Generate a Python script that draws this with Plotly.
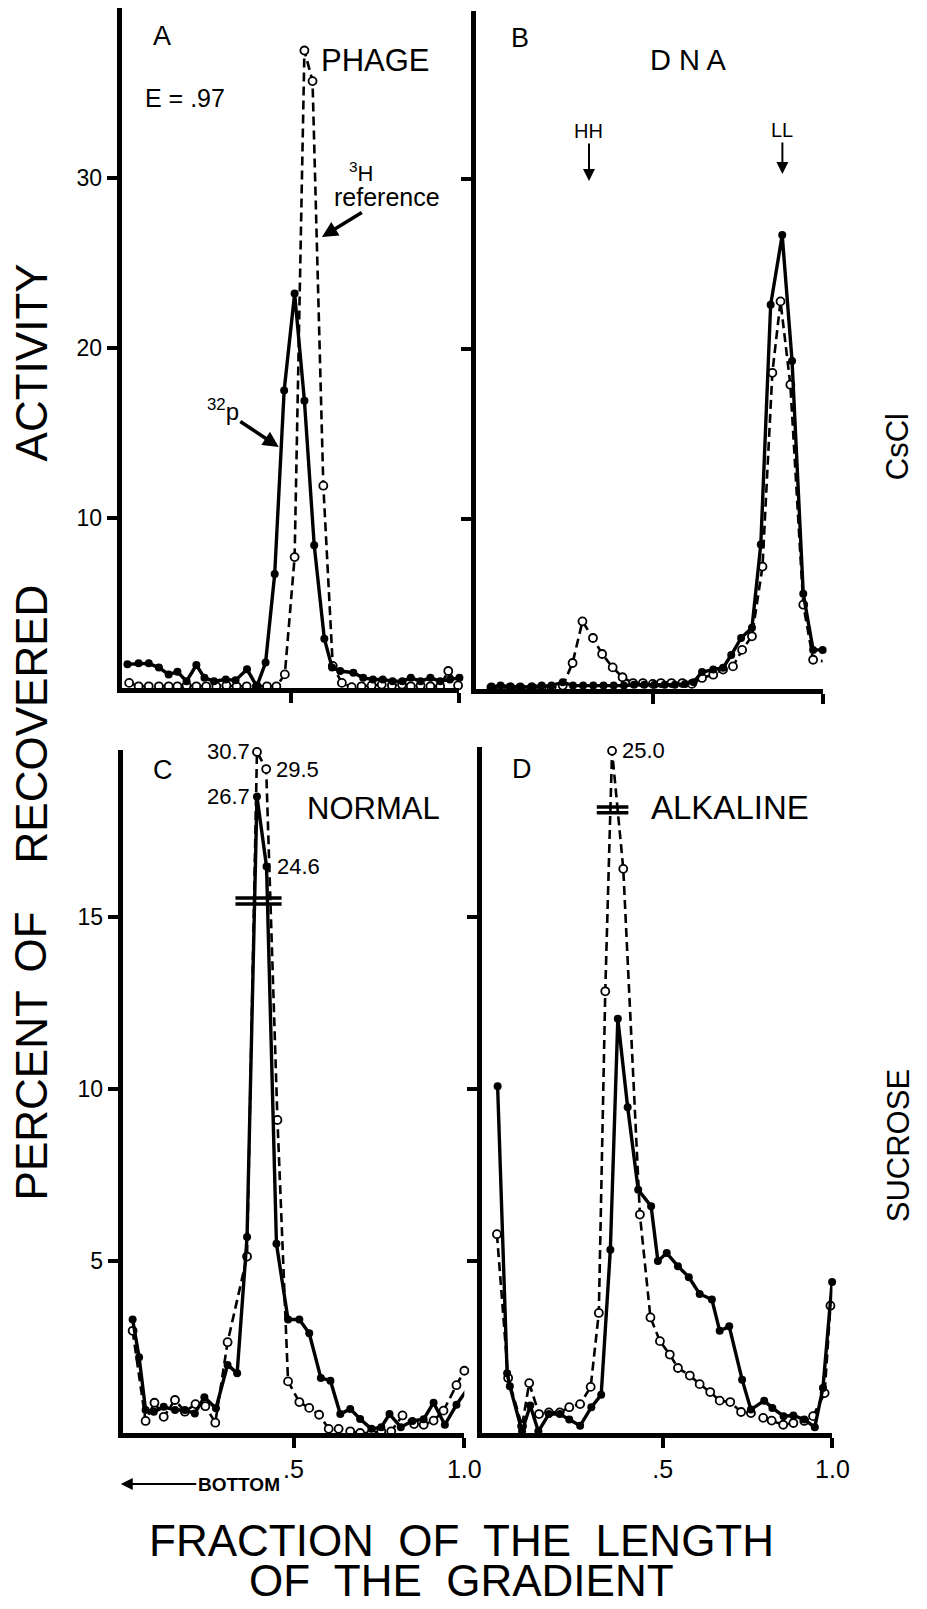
import numpy as np
import plotly.graph_objects as go

W, H = 927, 1609
FONT = "Liberation Sans, Arial, sans-serif"

# ---------------- Panel A : PHAGE (CsCl) ----------------
A_p32_x = [0.017, 0.05, 0.08, 0.11, 0.139, 0.165, 0.192, 0.221, 0.245, 0.273, 0.308, 0.337,
           0.371, 0.40, 0.426, 0.453, 0.481, 0.512, 0.541, 0.57, 0.60, 0.623, 0.647, 0.686,
           0.715, 0.744, 0.773, 0.802, 0.831, 0.856, 0.885, 0.914, 0.943, 0.972, 1.0]
A_p32_y = [1.4, 1.45, 1.45, 1.2, 0.8, 0.95, 0.4, 1.35, 0.6, 0.4, 0.5, 0.45,
           1.1, 0.1, 1.5, 6.7, 17.5, 23.2, 16.9, 8.4, 2.9, 1.2, 1.0, 0.9,
           0.6, 0.5, 0.5, 0.4, 0.4, 0.6, 0.4, 0.6, 0.4, 0.5, 0.6]
A_h3_x = [0.022, 0.05, 0.08, 0.11, 0.139, 0.165, 0.192, 0.221, 0.25, 0.28, 0.31, 0.34,
          0.37, 0.40, 0.43, 0.458, 0.483, 0.512, 0.541, 0.565, 0.597, 0.625, 0.652, 0.681,
          0.71, 0.74, 0.77, 0.80, 0.83, 0.856, 0.885, 0.914, 0.943, 0.967, 0.996]
A_h3_y = [0.3, 0.1, 0.1, 0.1, 0.1, 0.1, 0.15, 0.1, 0.1, 0.1, 0.15, 0.1,
          0.1, 0.1, 0.1, 0.1, 0.8, 7.7, 37.5, 35.7, 11.9, 1.3, 0.3, 0.05,
          0.1, 0.15, 0.2, 0.15, 0.2, 0.1, 0.15, 0.1, 0.1, 1.0, 0.15]

# ---------------- Panel B : DNA (CsCl) ----------------
B_p32_x = [0.025, 0.052, 0.081, 0.11, 0.144, 0.173, 0.202, 0.235, 0.265, 0.295, 0.325, 0.355,
           0.385, 0.415, 0.445, 0.475, 0.505, 0.535, 0.565, 0.595, 0.62, 0.645, 0.678, 0.707,
           0.731, 0.760, 0.792, 0.818, 0.847, 0.881, 0.910, 0.943, 0.972, 1.0]
B_p32_y = [0.1, 0.2, 0.15, 0.1, 0.15, 0.2, 0.2, 0.4, 0.2, 0.2, 0.2, 0.2,
           0.2, 0.2, 0.25, 0.25, 0.25, 0.25, 0.25, 0.3, 0.4, 1.0, 1.15, 1.25,
           2.0, 3.0, 3.6, 8.5, 22.6, 26.7, 19.3, 5.6, 2.3, 2.3]
B_h3_x = [0.025, 0.052, 0.081, 0.11, 0.144, 0.173, 0.202, 0.235, 0.264, 0.293, 0.324, 0.351,
          0.382, 0.411, 0.442, 0.471, 0.50, 0.524, 0.555, 0.587, 0.615, 0.645, 0.678, 0.707,
          0.736, 0.763, 0.792, 0.823, 0.852, 0.876, 0.905, 0.943, 0.972, 1.004]
B_h3_y = [0.1, 0.1, 0.1, 0.1, 0.1, 0.1, 0.1, 0.2, 1.53, 3.98, 3.0, 2.06,
          1.27, 0.69, 0.35, 0.35, 0.3, 0.35, 0.35, 0.35, 0.3, 0.65, 0.84, 1.14,
          1.33, 2.3, 3.1, 7.2, 18.6, 22.8, 17.9, 4.96, 1.72, 1.63]

# ---------------- Panel C : NORMAL (sucrose) ----------------
C_p32_x = [0.029, 0.048, 0.067, 0.091, 0.12, 0.153, 0.182, 0.211, 0.239, 0.273, 0.307, 0.335,
           0.364, 0.393, 0.421, 0.45, 0.484, 0.517, 0.546, 0.58, 0.608, 0.637, 0.666, 0.695,
           0.728, 0.757, 0.781, 0.814, 0.848, 0.881, 0.91, 0.943, 0.977, 1.01]
C_p32_y = [3.3, 2.2, 0.67, 0.62, 0.76, 0.67, 0.67, 0.57, 1.04, 0.72, 1.98, 1.74,
           5.7, 26.7, 24.6, 5.5, 3.3, 3.3, 2.9, 1.6, 1.52, 0.55, 0.70, 0.41,
           0.12, 0.17, 0.55, 0.17, 0.35, 0.40, 0.88, 0.24, 0.82, 1.29]
C_h3_x = [0.029, 0.067, 0.093, 0.12, 0.153, 0.182, 0.213, 0.242, 0.271, 0.307, 0.364, 0.393,
          0.42, 0.453, 0.484, 0.517, 0.546, 0.575, 0.603, 0.632, 0.666, 0.695, 0.728, 0.757,
          0.786, 0.819, 0.853, 0.881, 0.91, 0.939, 0.977, 1.0]
C_h3_y = [2.97, 0.35, 0.88, 0.47, 0.96, 0.62, 0.84, 0.78, 0.3, 2.64, 5.13, 30.7,
          29.5, 9.1, 1.5, 0.90, 0.73, 0.53, 0.12, 0.12, 0.05, 0.0, 0.0, 0.05,
          0.05, 0.51, 0.26, 0.24, 0.36, 0.65, 1.39, 1.81]
# broken-axis scale above the break (true value -> drawn height)
C_break_true = [15.5, 24.6, 26.7, 29.5, 30.7]
C_break_draw = [15.5, 16.47, 18.5, 19.3, 19.8]
C_label_side = {30.7: "left", 29.5: "right", 26.7: "left", 24.6: "right"}

# ---------------- Panel D : ALKALINE (sucrose) ----------------
D_p32_x = [0.014, 0.042, 0.05, 0.086, 0.11, 0.134, 0.165, 0.197, 0.225, 0.257, 0.29, 0.319,
           0.346, 0.368, 0.397, 0.428, 0.466, 0.486, 0.512, 0.545, 0.577, 0.609, 0.645, 0.668,
           0.696, 0.734, 0.76, 0.799, 0.823, 0.856, 0.885, 0.917, 0.948, 0.972, 0.999]
D_p32_y = [10.08, 1.74, 1.36, 0.05, 0.8, 0.05, 0.55, 0.55, 0.39, 0.21, 0.75, 1.11,
           5.33, 12.04, 9.47, 7.07, 6.59, 5.0, 5.23, 4.85, 4.53, 4.04, 3.88, 2.97,
           3.1, 1.55, 0.68, 0.94, 0.73, 0.49, 0.51, 0.39, 0.17, 1.31, 4.39]
D_h3_x = [0.012, 0.045, 0.086, 0.107, 0.136, 0.165, 0.197, 0.225, 0.257, 0.288, 0.312, 0.331,
          0.351, 0.384, 0.433, 0.464, 0.492, 0.521, 0.545, 0.58, 0.609, 0.64, 0.668, 0.699,
          0.731, 0.76, 0.796, 0.821, 0.855, 0.885, 0.917, 0.943, 0.977, 0.994]
D_h3_y = [5.78, 1.6, 0.2, 1.45, 0.55, 0.6, 0.6, 0.75, 0.84, 1.34, 3.49, 12.84,
          25.0, 16.4, 6.35, 3.36, 2.67, 2.28, 1.89, 1.67, 1.42, 1.19, 0.94, 0.9,
          0.61, 0.58, 0.44, 0.36, 0.24, 0.29, 0.35, 0.49, 1.16, 3.7]
D_break_true = [18.2, 25.0]
D_break_draw = [18.2, 19.83]
D_label_side = {25.0: "right"}

# axis title words and their vertical centres
Y_TITLE_WORDS = ["PERCENT", "OF", "RECOVERED", "ACTIVITY"]
Y_TITLE_POS = [1095, 942, 724, 362]


def drawn(vals, kt, kd):
    v = np.asarray(vals, float)
    return np.where(v > kt[0], np.interp(v, kt, kd), v)


def px(p):
    return p / W


def py(p):
    return 1 - p / H


fig = go.Figure()

panels = [
    ("x", "y", A_p32_x, A_p32_y, A_h3_x, A_h3_y),
    ("x2", "y2", B_p32_x, B_p32_y, B_h3_x, B_h3_y),
    ("x3", "y3", C_p32_x, list(drawn(C_p32_y, C_break_true, C_break_draw)),
     C_h3_x, list(drawn(C_h3_y, C_break_true, C_break_draw))),
    ("x4", "y4", D_p32_x, list(drawn(D_p32_y, D_break_true, D_break_draw)),
     D_h3_x, list(drawn(D_h3_y, D_break_true, D_break_draw))),
]

for xa, ya, px32, py32, ph3x, ph3y in panels:
    fig.add_trace(go.Scatter(
        x=ph3x, y=ph3y, xaxis=xa, yaxis=ya, mode="lines+markers", cliponaxis=False,
        line=dict(color="black", width=2.6, dash="9px,5px"),
        marker=dict(symbol="circle", size=8, color="white", line=dict(color="black", width=1.8)),
        showlegend=False, hoverinfo="skip"))
    fig.add_trace(go.Scatter(
        x=px32, y=py32, xaxis=xa, yaxis=ya, mode="lines+markers", cliponaxis=False,
        line=dict(color="black", width=3.4),
        marker=dict(symbol="circle", size=8, color="black"),
        showlegend=False, hoverinfo="skip"))


def xax(l, r, rng, labels, anchor):
    return dict(domain=[px(l), px(r)], range=rng, anchor=anchor, showline=True, linewidth=5,
                linecolor="black", ticks="outside", ticklen=10, tickwidth=3.5, tickcolor="black",
                tickvals=[0.5, 1.0], ticktext=[".5", "1.0"], showticklabels=labels,
                showgrid=False, zeroline=False,
                tickfont=dict(size=25, color="black", family=FONT))


def yax(bot, top, ppu, tv, labels, anchor):
    return dict(domain=[py(bot), py(top)], range=[0, (bot - top) / ppu], anchor=anchor,
                showline=True, linewidth=5,
                linecolor="black", ticks="outside", ticklen=10, tickwidth=3.5, tickcolor="black",
                tickvals=tv, ticktext=[str(t) for t in tv], showticklabels=labels,
                showgrid=False, zeroline=False,
                tickfont=dict(size=23, color="black", family=FONT))


fig.update_layout(
    width=W, height=H, margin=dict(l=0, r=0, t=0, b=0), autosize=False,
    paper_bgcolor="white", plot_bgcolor="white", showlegend=False,
    font=dict(family=FONT, color="black"),
    xaxis=xax(124, 468, [0, 1], False, "y"),
    yaxis=yax(688, 8, 17.0, [10, 20, 30], True, "x"),
    xaxis2=xax(485, 838, [-0.02, 1], False, "y2"),
    yaxis2=yax(689, 11, 17.0, [10, 20, 30], False, "x2"),
    xaxis3=xax(125, 473, [0, 1], True, "y3"),
    yaxis3=yax(1433, 750, 34.4, [5, 10, 15], True, "x3"),
    xaxis4=xax(491, 848, [-0.032, 1], True, "y4"),
    yaxis4=yax(1433, 747, 34.4, [5, 10, 15], False, "x4"),
)

ann = []


def txt(t, x, y, size, angle=0, xanchor="center", yanchor="middle"):
    ann.append(dict(text=t, x=px(x), y=py(y), xref="paper", yref="paper", showarrow=False,
                    font=dict(size=size, color="black", family=FONT), textangle=angle,
                    xanchor=xanchor, yanchor=yanchor))


def label_arrow(t, tx, ty, hx, hy, size, width=3, head=2, asize=1.0):
    # text sits at (tx, ty); the arrow runs from the text to the head (hx, hy)
    ann.append(dict(text=t, x=px(hx), y=py(hy), xref="paper", yref="paper", showarrow=True,
                    ax=tx - hx, ay=ty - hy, arrowhead=head, arrowsize=asize,
                    arrowwidth=width, arrowcolor="black",
                    font=dict(size=size, color="black", family=FONT)))


# panel letters and titles
txt("A", 165, 36, 27)
txt("PHAGE", 383, 61, 31)
txt("E = .97", 188, 98, 25)
txt("<sup>3</sup>H", 368, 172, 22)
label_arrow("reference", 393, 197, 328, 237, 25, width=3.5, asize=0.9)
label_arrow("<sup>32</sup>p", 228, 410, 284, 447, 24, width=3.5, asize=0.9)

txt("B", 530, 38, 27)
txt("D N A", 701, 60, 29)
label_arrow("HH", 600, 131, 600, 181, 20, width=2, asize=1.2)
label_arrow("LL", 797, 130, 797, 174, 20, width=2, asize=1.2)

txt("C", 166, 770, 27)
txt("NORMAL", 380, 808, 31)
txt("D", 532, 769, 27)
txt("ALKALINE", 744, 807, 33)

# value labels of off-scale points
for xs, ys, kt, kd, sides, xa, ya in [
        (C_h3_x, C_h3_y, C_break_true, C_break_draw, C_label_side, "x3", "y3"),
        (C_p32_x, C_p32_y, C_break_true, C_break_draw, C_label_side, "x3", "y3"),
        (D_h3_x, D_h3_y, D_break_true, D_break_draw, D_label_side, "x4", "y4")]:
    for xv, yv in zip(xs, ys):
        if yv in sides:
            side = sides[yv]
            ann.append(dict(text=f"{yv:.1f}", x=xv, y=float(drawn([yv], kt, kd)[0]),
                            xref=xa, yref=ya, showarrow=False,
                            xanchor="right" if side == "left" else "left",
                            xshift=-5 if side == "left" else 8,
                            font=dict(size=22, color="black", family=FONT)))

# axis-break marks
shapes = []
for xa, ya, x0, x1, ys in [("x3", "y3", 0.33, 0.465, [15.55, 15.38]),
                           ("x4", "y4", 0.306, 0.399, [18.2, 18.03])]:
    for yb in ys:
        shapes.append(dict(type="line", xref=xa, yref=ya, x0=x0, x1=x1, y0=yb, y1=yb,
                           line=dict(color="black", width=3.5)))

# side labels
txt("CsCl", 915, 447, 31, angle=-90)
txt("SUCROSE", 915, 1146, 31, angle=-90)

# y-axis title (spaced words)
for word, yc in zip(Y_TITLE_WORDS, Y_TITLE_POS):
    txt(word, 32, yc, 44, angle=-90)

# x-axis title
txt("FRACTION  OF  THE  LENGTH", 470, 1540, 44)
txt("OF  THE  GRADIENT", 470, 1580, 44)

# bottom marker
label_arrow("<b>BOTTOM</b>", 241, 1484, 123, 1484, 19, width=2, asize=1.2)

fig.update_layout(annotations=ann, shapes=shapes)
fig.write_html("out.html", config={"displayModeBar": False, "responsive": False},
               post_script="document.body.style.margin='0px';")
